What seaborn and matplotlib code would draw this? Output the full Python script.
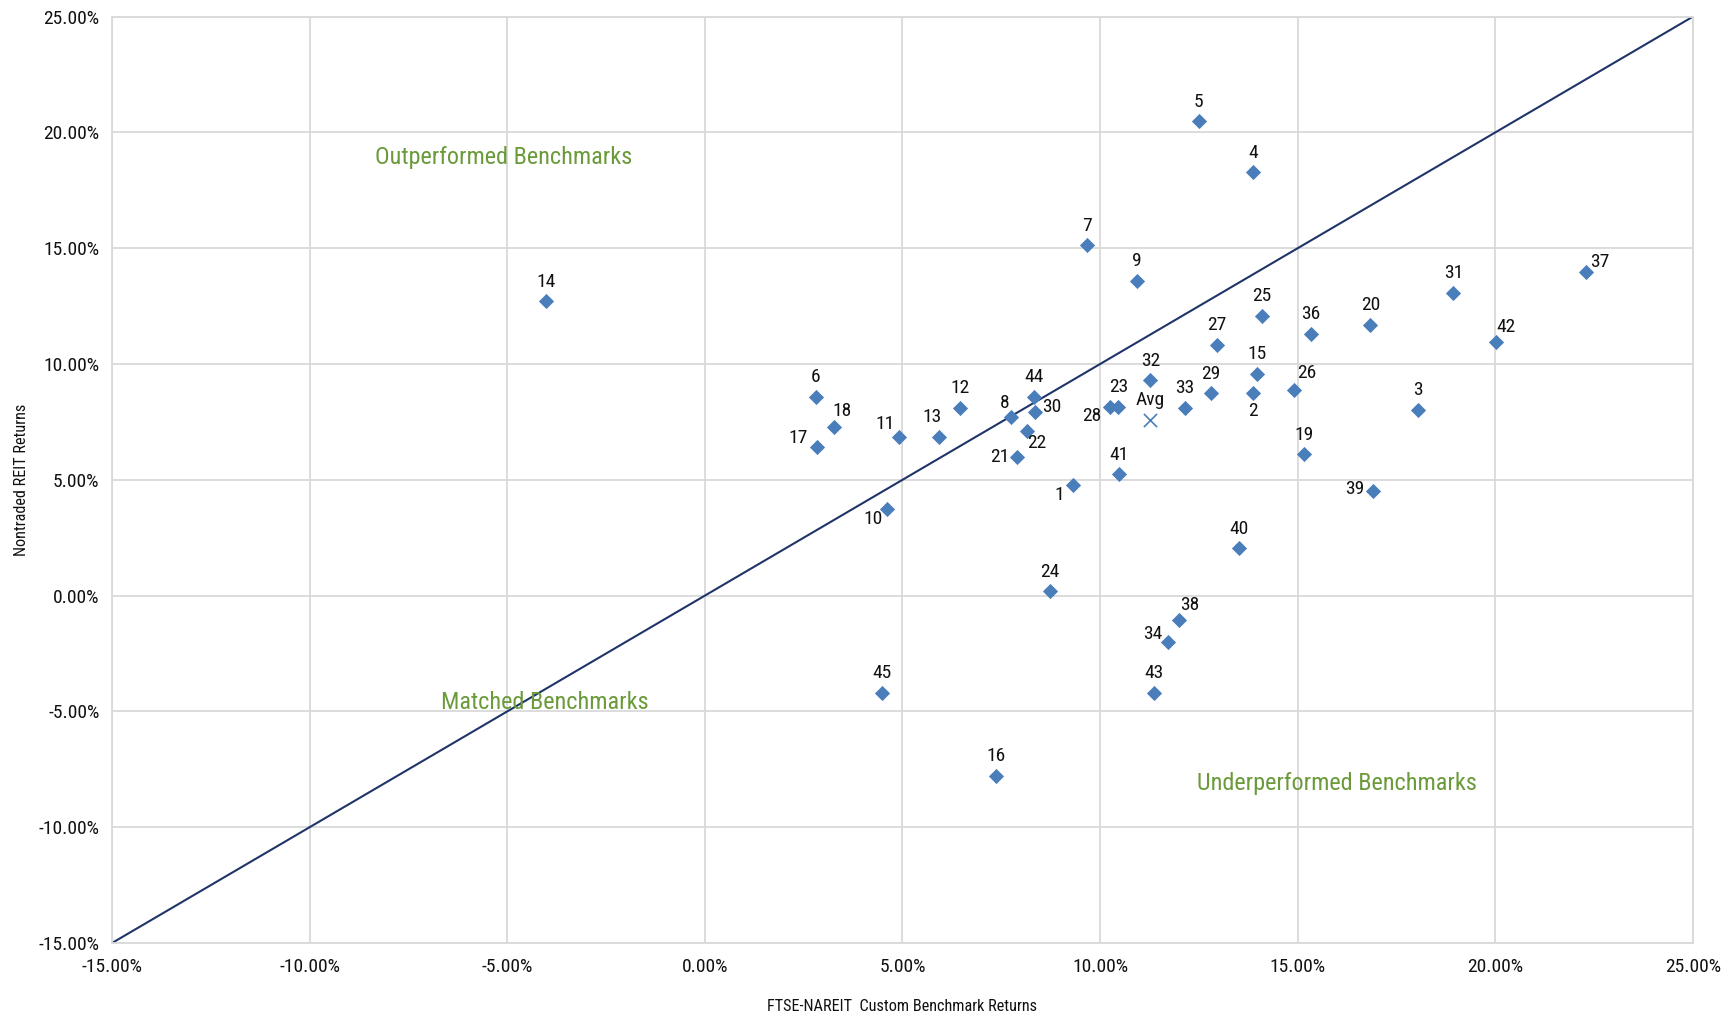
import matplotlib
matplotlib.use("Agg")
import matplotlib.pyplot as plt
from matplotlib import font_manager
from matplotlib.ticker import FuncFormatter, MultipleLocator
import seaborn as sns
import pandas as pd

# Fund ids and returns (%)
fund_ids = ["1", "2", "3", "4", "5", "6", "7", "8", "9", "10", "11", "12", "13", "14", "15",
            "16", "17", "18", "19", "20", "21", "22", "23", "24", "25", "26", "27", "28", "29",
            "30", "31", "32", "33", "34", "36", "37", "38", "39", "40", "41", "42", "43", "44", "45"]
benchmark_returns = [9.31, 13.87, 18.04, 13.87, 12.50, 2.80, 9.68, 7.75, 10.94, 4.62, 4.92, 6.46,
                     5.93, -4.03, 13.96, 7.36, 2.85, 3.27, 15.16, 16.84, 7.89, 8.14, 10.46, 8.73,
                     14.10, 14.91, 12.95, 10.24, 12.81, 8.36, 18.94, 11.27, 12.14, 11.72, 15.33,
                     22.29, 12.00, 16.90, 13.51, 10.49, 20.03, 11.36, 8.34, 4.48]
reit_returns = [4.77, 8.74, 8.02, 18.28, 20.48, 8.59, 15.13, 7.73, 13.60, 3.72, 6.87, 8.11,
                6.87, 12.70, 9.59, -7.78, 6.40, 7.26, 6.11, 11.69, 5.97, 7.11, 8.16, 0.19,
                12.08, 8.88, 10.84, 8.16, 8.74, 7.92, 13.08, 9.31, 8.11, -2.00, 11.31,
                13.99, -1.05, 4.53, 2.05, 5.25, 10.93, -4.20, 8.59, -4.20]
avg_benchmark = [11.27]
avg_reit = [7.59]
parity_line = [-15.0, 25.0]

# Label placement (offset in points from the marker); default is above
label_offsets = {
    "1": (-10, -7), "2": (0, -13), "8": (-5, 10), "10": (-10, -7), "11": (-10, 9),
    "13": (-5, 14), "17": (-14, 7), "18": (6, 12), "21": (-12, 0), "22": (7, -9),
    "26": (9, 12), "28": (-13, -7), "30": (12, 4), "34": (-11, 6), "37": (10, 7),
    "38": (8, 11), "39": (-13, 1), "42": (7, 11),
}
default_offset = (0, 14)

df = pd.DataFrame({"fund": fund_ids, "benchmark": benchmark_returns, "reit": reit_returns})

sns.set_theme(style="white")
available = {f.name for f in font_manager.fontManager.ttflist}
narrow = [n for n in ["Liberation Sans Narrow", "Roboto Condensed", "Open Sans Condensed",
                      "DejaVu Sans Condensed"] if n in available]
plt.rcParams["font.family"] = narrow + ["DejaVu Sans"]
plt.rcParams["font.stretch"] = "condensed"

fig, ax = plt.subplots(figsize=(17.34, 10.14), dpi=100)
fig.subplots_adjust(left=0.0646, right=0.9763, top=0.9836, bottom=0.070)

grid_color = "#d9d9d9"
point_color = "#4a7ebb"
text_color = "#111111"

sns.lineplot(x=parity_line, y=parity_line, ax=ax, color="#1f3468", linewidth=1.5, zorder=2)
sns.scatterplot(data=df, x="benchmark", y="reit", ax=ax, marker="D", s=60,
                color=point_color, edgecolor=point_color, linewidth=0, zorder=3)
sns.scatterplot(x=avg_benchmark, y=avg_reit, ax=ax, marker="x", s=90,
                color=point_color, linewidth=1.2, zorder=3)

for fid, bx, ry in zip(fund_ids, benchmark_returns, reit_returns):
    dx, dy = label_offsets.get(fid, default_offset)
    ax.annotate(fid, (bx, ry), xytext=(dx, dy), textcoords="offset points",
                ha="center", va="center", fontsize=14, color=text_color)
ax.annotate("Avg", (avg_benchmark[0], avg_reit[0]), xytext=default_offset,
            textcoords="offset points", ha="center", va="center", fontsize=14, color=text_color)

region_color = "#6a9a3a"
ax.text(-5.09, 18.9, "Outperformed Benchmarks", ha="center", va="center", fontsize=17.5, color=region_color)
ax.text(-4.06, -4.63, "Matched Benchmarks", ha="center", va="center", fontsize=17.5, color=region_color)
ax.text(16.0, -8.11, "Underperformed Benchmarks", ha="center", va="center", fontsize=17.5, color=region_color)

ax.set_xlim(-15, 25)
ax.set_ylim(-15, 25)
ax.xaxis.set_major_locator(MultipleLocator(5))
ax.yaxis.set_major_locator(MultipleLocator(5))
ax.xaxis.set_minor_locator(MultipleLocator(1))
ax.yaxis.set_minor_locator(MultipleLocator(1))
pct = FuncFormatter(lambda v, _: f"{v:.2f}%")
ax.xaxis.set_major_formatter(pct)
ax.yaxis.set_major_formatter(pct)

ax.grid(True, which="major", color=grid_color, linewidth=1.3)
ax.set_axisbelow(True)
for sp in ax.spines.values():
    sp.set_color(grid_color)
    sp.set_linewidth(1.3)
ax.tick_params(which="major", direction="out", length=6, width=1.3, color=grid_color,
               labelsize=14, labelcolor=text_color)
ax.tick_params(axis="x", which="major", pad=5)
ax.tick_params(axis="y", which="major", pad=3)
ax.tick_params(which="minor", direction="in", length=4, width=1, color=grid_color)

ax.set_xlabel("FTSE-NAREIT  Custom Benchmark Returns", fontsize=11.7, color=text_color, labelpad=16)
ax.set_ylabel("Nontraded REIT Returns", fontsize=11.7, color=text_color, labelpad=7)

fig.savefig("out.png", dpi=100)
